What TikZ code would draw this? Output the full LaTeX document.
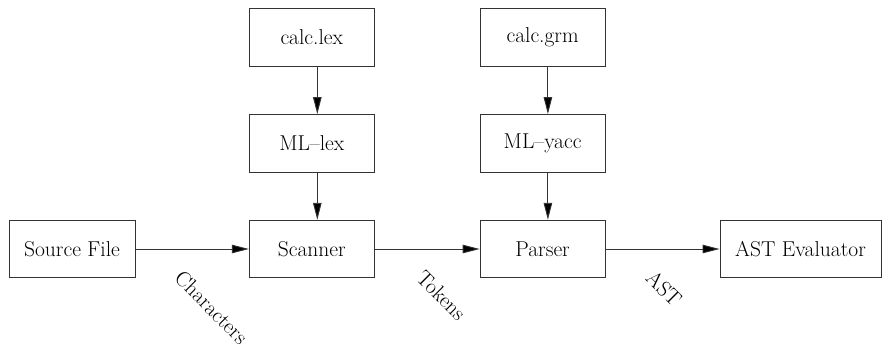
\documentclass[tikz,border=0pt]{standalone}
\usepackage{fontspec}
\newcommand\tx{\fontsize{21.5}{26}\selectfont}
\usetikzlibrary{arrows.meta}
\begin{document}
\begin{tikzpicture}[x=1pt,y=-1pt,
  box/.style={draw=black!80, line width=0.9pt, minimum width=125pt, minimum height=57.5pt,
    inner sep=0pt},
  arr/.style={draw=black!80, line width=0.9pt, -{Triangle[length=17pt,width=8.5pt,fill=black]}},
  lbl/.style={rotate=-45, inner sep=0pt}]
\useasboundingbox (0,0) rectangle (883,346);
\node[box, minimum width=126pt] (src) at (72,249) {\tx Source File};
\node[box] (lex) at (311.8,37.3) {\tx calc.lex};
\node[box] (mllex) at (311.8,143.3) {\tx ML{\textendash}lex};
\node[box] (scan) at (311.8,249) {\tx Scanner};
\node[box] (grm) at (542.6,37.3) {\tx calc.grm};
\node[box] (mlyacc) at (542.6,143.3) {\tx ML{\textendash}yacc};
\node[box] (pars) at (542.6,249) {\tx Parser};
\node[box, minimum width=161pt] (ast) at (800.5,249) {\tx AST Evaluator};
\draw[arr] ([xshift=5.5pt]lex.south) -- ([xshift=5.5pt]mllex.north);
\draw[arr] ([xshift=5.5pt]mllex.south) -- ([xshift=5.5pt]scan.north);
\draw[arr] ([xshift=5.3pt]grm.south) -- ([xshift=5.3pt]mlyacc.north);
\draw[arr] ([xshift=5.3pt]mlyacc.south) -- ([xshift=5.3pt]pars.north);
\draw[arr] (src) -- (scan);
\draw[arr] (scan) -- (pars);
\draw[arr] (pars) -- (ast);
\node[lbl] (lchar) at (211.5,307.5) {\tx Characters};
\node[lbl] (ltok) at (441.5,295.5) {\tx Tokens};
\node[lbl] (last) at (664,288.5) {\tx AST};
\end{tikzpicture}
\end{document}
